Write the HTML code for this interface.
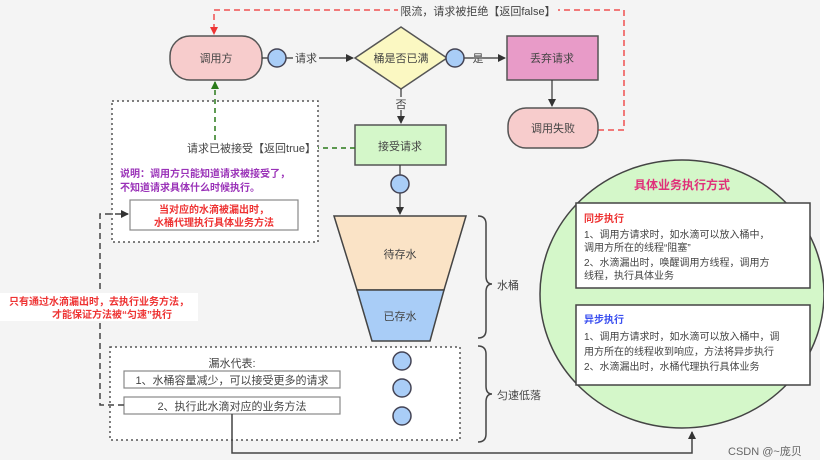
<!DOCTYPE html>
<html><head><meta charset="utf-8"><style>
html,body{margin:0;padding:0;background:#fff}
svg{display:block}
text{font-family:"Liberation Sans","Noto Sans CJK SC",sans-serif}
</style></head><body>
<svg width="824" height="468" viewBox="0 0 824 468" xmlns="http://www.w3.org/2000/svg">
<defs>
<marker id="a" markerWidth="8" markerHeight="8" refX="7" refY="4" orient="auto" markerUnits="userSpaceOnUse"><path d="M0,0 L8,4 L0,8 z" fill="#333"/></marker>
<marker id="ar" markerWidth="8" markerHeight="8" refX="7" refY="4" orient="auto" markerUnits="userSpaceOnUse"><path d="M0,0 L8,4 L0,8 z" fill="#e33"/></marker>
<marker id="ag" markerWidth="8" markerHeight="8" refX="7" refY="4" orient="auto" markerUnits="userSpaceOnUse"><path d="M0,0 L8,4 L0,8 z" fill="#2a7a1a"/></marker>
</defs>
<rect x="0" y="0" width="820" height="460" fill="#f4f4f4"/>

<!-- red dashed reject path -->
<path d="M598,130 H624 V10 H214 V34" fill="none" stroke="#f05050" stroke-width="1.5" stroke-dasharray="6,4" marker-end="url(#ar)"/>
<rect x="398" y="2" width="160" height="16" fill="#f4f4f4"/>
<text x="478" y="15" font-size="11" fill="#444" text-anchor="middle">限流，请求被拒绝【返回false】</text>

<!-- dotted box upper left -->
<rect x="112" y="101" width="206" height="141" fill="#fff" stroke="#555" stroke-width="1.5" stroke-dasharray="2,3"/>

<!-- caller -->
<rect x="170" y="36" width="92" height="44" rx="20" fill="#f7cccc" stroke="#555" stroke-width="1.5"/>
<text x="216" y="62" font-size="11" fill="#444" text-anchor="middle">调用方</text>
<line x1="262" y1="58" x2="353" y2="58" stroke="#333" stroke-width="1.2" marker-end="url(#a)"/>
<circle cx="277" cy="58" r="9" fill="#a9cdf7" stroke="#445" stroke-width="1.5"/>
<rect x="293" y="51" width="26" height="14" fill="#f4f4f4"/>
<text x="306" y="62" font-size="11" fill="#444" text-anchor="middle">请求</text>

<!-- diamond -->
<polygon points="401,27 447,58 401,89 355,58" fill="#fbf8c2" stroke="#555" stroke-width="1.5"/>
<text x="401" y="62" font-size="11" fill="#444" text-anchor="middle">桶是否已满</text>
<line x1="447" y1="58" x2="505" y2="58" stroke="#333" stroke-width="1.2" marker-end="url(#a)"/>
<circle cx="455" cy="58" r="9" fill="#a9cdf7" stroke="#445" stroke-width="1.5"/>
<text x="478" y="62" font-size="11" fill="#444" text-anchor="middle">是</text>

<!-- discard -->
<rect x="507" y="36" width="91" height="44" fill="#e89bc8" stroke="#555" stroke-width="1.5"/>
<text x="552" y="62" font-size="11" fill="#444" text-anchor="middle">丢弃请求</text>
<line x1="552" y1="80" x2="552" y2="106" stroke="#333" stroke-width="1.2" marker-end="url(#a)"/>
<rect x="508" y="108" width="90" height="40" rx="18" fill="#f7cccc" stroke="#555" stroke-width="1.5"/>
<text x="553" y="132" font-size="11" fill="#444" text-anchor="middle">调用失败</text>

<!-- 否 -->
<line x1="401" y1="89" x2="401" y2="123" stroke="#333" stroke-width="1.2" marker-end="url(#a)"/>
<rect x="394" y="97" width="14" height="13" fill="#f4f4f4"/>
<text x="401" y="108" font-size="11" fill="#444" text-anchor="middle">否</text>

<!-- accept -->
<rect x="355" y="125" width="91" height="40" fill="#d4f7c9" stroke="#555" stroke-width="1.5"/>
<text x="400" y="150" font-size="11" fill="#444" text-anchor="middle">接受请求</text>

<!-- green dashed -->
<path d="M355,148 H318" fill="none" stroke="#2a7a1a" stroke-width="1.5" stroke-dasharray="5,4"/>
<path d="M215,140 V82" fill="none" stroke="#2a7a1a" stroke-width="1.5" stroke-dasharray="5,4" marker-end="url(#ag)"/>
<text x="316" y="152" font-size="11" fill="#444" text-anchor="end">请求已被接受【返回true】</text>
<text x="120" y="177" font-size="10" font-weight="bold" fill="#9a32b8">说明：调用方只能知道请求被接受了，</text>
<text x="120" y="191" font-size="10" font-weight="bold" fill="#9a32b8">不知道请求具体什么时候执行。</text>
<rect x="130" y="200" width="168" height="30" fill="#fff" stroke="#888" stroke-width="1.2"/>
<text x="214" y="213" font-size="10" font-weight="bold" fill="#e33" text-anchor="middle">当对应的水滴被漏出时，</text>
<text x="214" y="226" font-size="10" font-weight="bold" fill="#e33" text-anchor="middle">水桶代理执行具体业务方法</text>

<!-- to funnel -->
<line x1="400" y1="165" x2="400" y2="214" stroke="#333" stroke-width="1.2" marker-end="url(#a)"/>
<circle cx="400" cy="184" r="9" fill="#a9cdf7" stroke="#445" stroke-width="1.5"/>

<!-- funnel -->
<polygon points="334,216 466,216 444,290 357,290" fill="#fae3c6" stroke="#444" stroke-width="1.5"/>
<polygon points="357,290 444,290 430,341 372,341" fill="#a9cdf7" stroke="#444" stroke-width="1.5"/>
<text x="400" y="258" font-size="11" fill="#444" text-anchor="middle">待存水</text>
<text x="400" y="320" font-size="11" fill="#444" text-anchor="middle">已存水</text>

<!-- braces -->
<path d="M478,216 Q486,216 486,224 V276 Q486,284 492,284 Q486,284 486,292 V330 Q486,338 478,338" fill="none" stroke="#444" stroke-width="1.5"/>
<text x="497" y="289" font-size="11" fill="#444">水桶</text>
<path d="M478,346 Q486,346 486,354 V386 Q486,394 492,394 Q486,394 486,402 V434 Q486,442 478,442" fill="none" stroke="#444" stroke-width="1.5"/>
<text x="497" y="399" font-size="11" fill="#444">匀速低落</text>

<!-- lower dotted box -->
<rect x="110" y="347" width="350" height="93" fill="#fff" stroke="#555" stroke-width="1.5" stroke-dasharray="2,3"/>
<text x="232" y="367" font-size="11" fill="#444" text-anchor="middle">漏水代表:</text>
<rect x="124" y="371" width="216" height="17" fill="#fff" stroke="#888" stroke-width="1.2"/>
<text x="232" y="384" font-size="11" fill="#444" text-anchor="middle">1、水桶容量减少，可以接受更多的请求</text>
<rect x="124" y="397" width="216" height="17" fill="#fff" stroke="#888" stroke-width="1.2"/>
<text x="232" y="410" font-size="11" fill="#444" text-anchor="middle">2、执行此水滴对应的业务方法</text>
<circle cx="402" cy="361" r="9" fill="#a9cdf7" stroke="#445" stroke-width="1.5"/>
<circle cx="402" cy="388" r="9" fill="#a9cdf7" stroke="#445" stroke-width="1.5"/>
<circle cx="402" cy="416" r="9" fill="#a9cdf7" stroke="#445" stroke-width="1.5"/>

<!-- left dashed -->
<path d="M124,405 H100 V214 H128" fill="none" stroke="#444" stroke-width="1.5" stroke-dasharray="6,4" marker-end="url(#a)"/>
<rect x="0" y="293" width="198" height="28" fill="#fff"/>
<text x="99" y="305" font-size="10" font-weight="bold" fill="#e33" text-anchor="middle">只有通过水滴漏出时，去执行业务方法，</text>
<text x="112" y="318" font-size="10" font-weight="bold" fill="#e33" text-anchor="middle">才能保证方法被“匀速”执行</text>

<!-- ellipse -->
<ellipse cx="682" cy="294" rx="142" ry="134" fill="#d4f7c9" stroke="#444" stroke-width="1.5"/>
<text x="682" y="189" font-size="12" font-weight="bold" fill="#e0307a" text-anchor="middle">具体业务执行方式</text>
<rect x="576" y="203" width="234" height="85" fill="#fff" stroke="#444" stroke-width="1.5"/>
<text x="584" y="222" font-size="10" font-weight="bold" fill="#e33">同步执行</text>
<text x="584" y="238" font-size="10" fill="#444">1、调用方请求时，如水滴可以放入桶中，</text>
<text x="584" y="251" font-size="10" fill="#444">调用方所在的线程“阻塞”</text>
<text x="584" y="266" font-size="10" fill="#444">2、水滴漏出时，唤醒调用方线程，调用方</text>
<text x="584" y="279" font-size="10" fill="#444">线程，执行具体业务</text>
<rect x="576" y="305" width="234" height="80" fill="#fff" stroke="#444" stroke-width="1.5"/>
<text x="584" y="323" font-size="10" font-weight="bold" fill="#3a4ff0">异步执行</text>
<text x="584" y="340" font-size="10" fill="#444">1、调用方请求时，如水滴可以放入桶中，调</text>
<text x="584" y="355" font-size="10" fill="#444">用方所在的线程收到响应，方法将异步执行</text>
<text x="584" y="370" font-size="10" fill="#444">2、水滴漏出时，水桶代理执行具体业务</text>

<!-- bottom connector -->
<path d="M232,414 V453 H692 V432" fill="none" stroke="#444" stroke-width="1.5" marker-end="url(#a)"/>
<text x="728" y="455" font-size="11" fill="#666">CSDN @~庞贝</text>
</svg>
</body></html>
